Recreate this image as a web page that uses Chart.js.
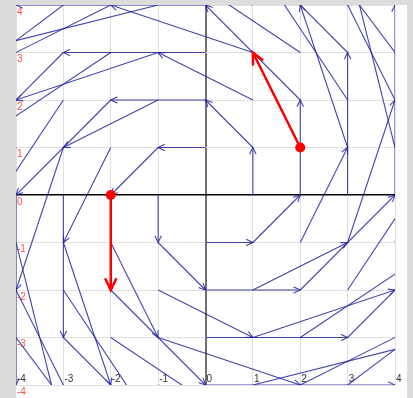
<!DOCTYPE html>
<html>
<head>
<meta charset="utf-8">
<script src="https://cdn.jsdelivr.net/npm/chart.js@4.4.0/dist/chart.umd.min.js"></script>
<style>
  html, body { margin: 0; padding: 0; background: #dcdcdc; }
  canvas { display: block; }
</style>
</head>
<body>
<canvas id="fieldChart" width="413" height="398"></canvas>
<script>
// grid positions of the field
const xTicks = [-4, -3, -2, -1, 0, 1, 2, 3, 4];
const yTicks = [-4, -3, -2, -1, 0, 1, 2, 3, 4];

// vector components, one row per y (from -4 up to 4), one column per x
const fieldU = [
    [4, 4, 4, 4, 4, 4, 4, 4, 4],
    [3, 3, 3, 3, 3, 3, 3, 3, 3],
    [2, 2, 2, 2, 2, 2, 2, 2, 2],
    [1, 1, 1, 1, 1, 1, 1, 1, 1],
    [0, 0, 0, 0, 0, 0, 0, 0, 0],
    [-1, -1, -1, -1, -1, -1, -1, -1, -1],
    [-2, -2, -2, -2, -2, -2, -2, -2, -2],
    [-3, -3, -3, -3, -3, -3, -3, -3, -3],
    [-4, -4, -4, -4, -4, -4, -4, -4, -4]
];
const fieldV = [
    [-4, -3, -2, -1, 0, 1, 2, 3, 4],
    [-4, -3, -2, -1, 0, 1, 2, 3, 4],
    [-4, -3, -2, -1, 0, 1, 2, 3, 4],
    [-4, -3, -2, -1, 0, 1, 2, 3, 4],
    [-4, -3, -2, -1, 0, 1, 2, 3, 4],
    [-4, -3, -2, -1, 0, 1, 2, 3, 4],
    [-4, -3, -2, -1, 0, 1, 2, 3, 4],
    [-4, -3, -2, -1, 0, 1, 2, 3, 4],
    [-4, -3, -2, -1, 0, 1, 2, 3, 4]
];

// highlighted vectors
const redX = [2, -2];
const redY = [1, 0];
const redU = [-1, 0];
const redV = [2, -2];

const BLUE = 'rgba(35, 35, 160, 0.85)';
const RED = '#ff0000';

/**
 * Build one line dataset per arrow
 */
function buildDatasets() {
    const sets = [];

    // red start dots on top
    sets.push({
        data: redX.map((x, i) => ({ x: x, y: redY[i] })),
        pointRadius: 5,
        pointBackgroundColor: RED,
        pointBorderWidth: 0,
        showLine: false,
        order: 0
    });

    redX.forEach((x, i) => {
        sets.push({
            data: [{ x: x, y: redY[i] }, { x: x + redU[i], y: redY[i] + redV[i] }],
            borderColor: RED,
            borderWidth: 2.5,
            pointRadius: 0,
            showLine: true,
            headSize: 12,
            order: 1
        });
    });

    yTicks.forEach((y, j) => {
        xTicks.forEach((x, i) => {
            const u = fieldU[j][i];
            const v = fieldV[j][i];
            if (u === 0 && v === 0) return;
            sets.push({
                data: [{ x: x, y: y }, { x: x + u, y: y + v }],
                borderColor: BLUE,
                borderWidth: 1.1,
                pointRadius: 0,
                showLine: true,
                headSize: 7,
                order: 2
            });
        });
    });
    return sets;
}

// grey page, white panel
const backgroundPlugin = {
    id: 'panelBackground',
    beforeDraw(chart) {
        const ctx = chart.ctx;
        ctx.save();
        ctx.fillStyle = '#dcdcdc';
        ctx.fillRect(0, 0, chart.width, chart.height);
        ctx.fillStyle = '#ffffff';
        ctx.fillRect(chart.chartArea.left, chart.chartArea.top, 391, chart.height - chart.chartArea.top);
        ctx.restore();
    }
};

// tick labels drawn inside the plot
const labelPlugin = {
    id: 'innerLabels',
    beforeDatasetsDraw(chart) {
        const ctx = chart.ctx;
        const area = chart.chartArea;
        const xs = chart.scales.x;
        const ys = chart.scales.y;
        ctx.save();
        ctx.font = "10px 'Liberation Sans', Arial, sans-serif";
        ctx.textAlign = 'left';
        ctx.textBaseline = 'top';
        ctx.fillStyle = '#ff5050';
        yTicks.forEach(v => {
            ctx.fillText(String(v), area.left + 1, ys.getPixelForValue(v) + 2);
        });
        ctx.textBaseline = 'bottom';
        ctx.fillStyle = '#333333';
        xTicks.forEach(v => {
            ctx.fillText(String(v), xs.getPixelForValue(v) + 1, area.bottom - 1);
        });
        ctx.restore();
    }
};

// open V heads at the end of each arrow
const arrowPlugin = {
    id: 'arrowHeads',
    afterDatasetDraw(chart, args) {
        const ds = chart.data.datasets[args.index];
        if (!ds.headSize) return;
        const pts = args.meta.data;
        if (pts.length < 2) return;
        const a = pts[0], b = pts[1];
        const ang = Math.atan2(b.y - a.y, b.x - a.x);
        const spread = Math.PI / 7;
        const area = chart.chartArea;
        const ctx = chart.ctx;
        ctx.save();
        ctx.beginPath();
        ctx.rect(area.left, area.top, area.right - area.left, area.bottom - area.top);
        ctx.clip();
        ctx.strokeStyle = ds.borderColor;
        ctx.lineWidth = ds.borderWidth;
        ctx.lineCap = 'round';
        ctx.beginPath();
        ctx.moveTo(b.x - ds.headSize * Math.cos(ang - spread), b.y - ds.headSize * Math.sin(ang - spread));
        ctx.lineTo(b.x, b.y);
        ctx.lineTo(b.x - ds.headSize * Math.cos(ang + spread), b.y - ds.headSize * Math.sin(ang + spread));
        ctx.stroke();
        ctx.restore();
    }
};

new Chart(document.getElementById('fieldChart'), {
    type: 'scatter',
    data: { datasets: buildDatasets() },
    options: {
        responsive: false,
        animation: false,
        layout: { padding: { left: 16, top: 5, right: 18, bottom: 13 } },
        plugins: {
            legend: { display: false },
            tooltip: { enabled: false }
        },
        scales: {
            x: {
                type: 'linear',
                min: -4,
                max: 4,
                ticks: { stepSize: 1, display: false },
                grid: {
                    drawTicks: false,
                    color: c => c.tick.value === 0 ? '#707070' : '#e0e0e0',
                    lineWidth: c => c.tick.value === 0 ? 2 : 1
                },
                border: { display: false }
            },
            y: {
                type: 'linear',
                min: -4,
                max: 4,
                ticks: { stepSize: 1, display: false },
                grid: {
                    drawTicks: false,
                    color: c => c.tick.value === 0 ? '#000000' : '#e0e0e0',
                    lineWidth: c => c.tick.value === 0 ? 1.5 : 1
                },
                border: { display: false }
            }
        }
    },
    plugins: [backgroundPlugin, labelPlugin, arrowPlugin]
});
</script>
</body>
</html>
